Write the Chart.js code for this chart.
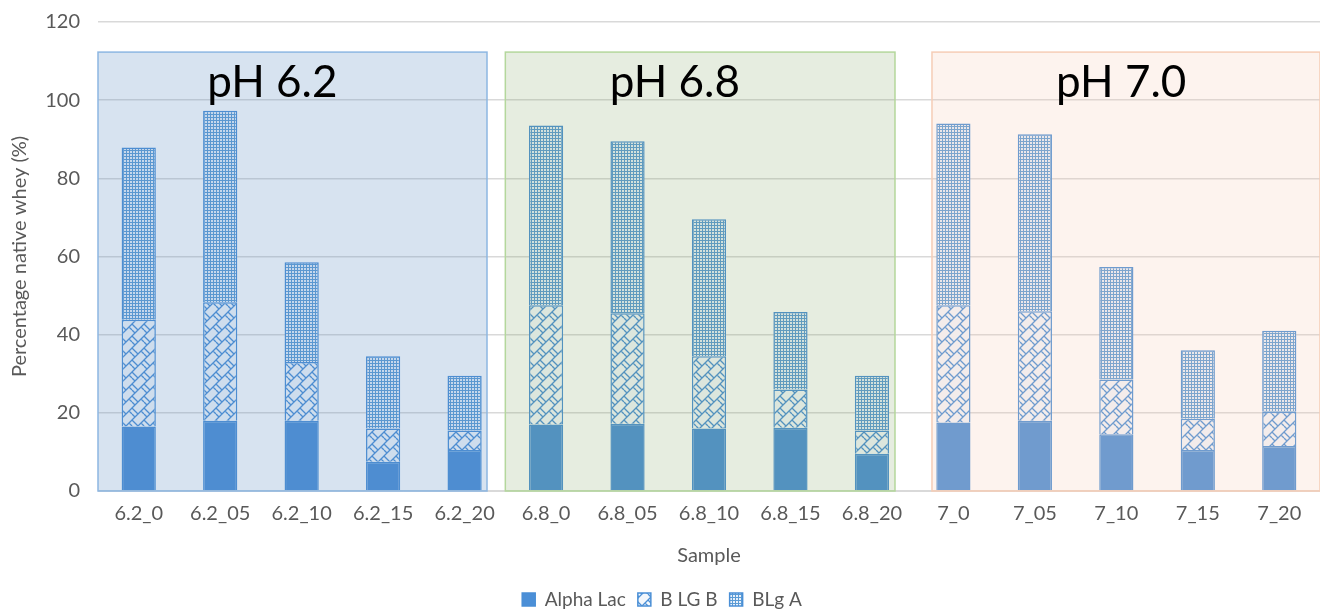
<!DOCTYPE html>
<html>
<head>
<meta charset="utf-8">
<script src="https://cdn.jsdelivr.net/npm/chart.js@4"></script>
<style>
  html, body { margin: 0; padding: 0; background: #fff; }
  #wrap { width: 1320px; height: 610px; }
</style>
</head>
<body>
<div id="wrap"><canvas id="myChart"></canvas></div>
<script>
// values
var samples = ['6.2_0', '6.2_05', '6.2_10', '6.2_15', '6.2_20',
               '6.8_0', '6.8_05', '6.8_10', '6.8_15', '6.8_20',
               '7_0', '7_05', '7_10', '7_15', '7_20'];
var alphaLac = [16.5, 18, 18, 7.5, 10.5, 17, 17.2, 16, 16.2, 9.5, 17.5, 18, 14.5, 10.5, 11.5];
var blgB = [27.3, 30.3, 15, 8.5, 5, 30.5, 28.3, 18.5, 9.8, 6, 30, 28, 14, 8, 8.8];
var blgA = [44.1, 49, 25.5, 18.5, 14, 46, 44, 35, 19.8, 14, 46.5, 45.3, 28.8, 17.5, 20.7];
var groupNames = ['pH 6.2', 'pH 6.8', 'pH 7.0'];

var ctx = document.getElementById('myChart').getContext('2d');
var blue = '#4a8fd6';

function dotsPattern() {
    var c = document.createElement('canvas');
    c.width = 3; c.height = 3;
    var g = c.getContext('2d');
    g.fillStyle = '#e8f0fa';
    g.fillRect(0, 0, 3, 3);
    g.fillStyle = '#5b9bd5';
    g.fillRect(0, 0, 3, 1);
    g.fillRect(0, 0, 1, 3);
    return ctx.createPattern(c, 'repeat');
}

function weavePattern() {
    var s = 12;
    var c = document.createElement('canvas');
    c.width = s; c.height = s;
    var g = c.getContext('2d');
    g.fillStyle = '#f3f7fc';
    g.fillRect(0, 0, s, s);
    g.strokeStyle = blue;
    g.lineWidth = 1.3;
    g.beginPath();
    // up-right diagonals
    g.moveTo(-1, s + 1); g.lineTo(s + 1, -1);
    g.moveTo(-1, 1); g.lineTo(1, -1);
    g.moveTo(s - 1, s + 1); g.lineTo(s + 1, s - 1);
    // short down-right links, staggered
    g.moveTo(0, 0); g.lineTo(6, 6);
    g.moveTo(9, 3); g.lineTo(12, 6);
    g.moveTo(0, 6); g.lineTo(3, 9);
    g.stroke();
    return ctx.createPattern(c, 'repeat');
}

var groupBoxes = {
    id: 'groupBoxes',
    afterDatasetsDraw: function (chart, args, opts) {
        var x = chart.scales.x, y = chart.scales.y, c = chart.ctx;
        opts.boxes.forEach(function (b, i) {
            var l = x.getPixelForValue(b.from), r = x.getPixelForValue(b.to);
            var t = y.getPixelForValue(b.top), bt = y.getPixelForValue(0);
            c.save();
            c.fillStyle = b.fill;
            c.fillRect(l, t, r - l, bt - t);
            c.strokeStyle = b.line;
            c.lineWidth = 1.5;
            c.strokeRect(l, t, r - l, bt - t);
            c.fillStyle = '#000';
            c.font = '44px Lato, "Open Sans", sans-serif';
            c.textAlign = 'center';
            c.textBaseline = 'middle';
            c.fillText(groupNames[i], x.getPixelForValue(b.textAt), y.getPixelForValue(104.5));
            c.restore();
        });
    }
};

var tickFont = { family: 'Lato', size: 20 };

var myChart = new Chart(ctx, {
    type: 'bar',
    data: {
        labels: samples,
        datasets: [{
            label: 'Alpha Lac',
            data: alphaLac,
            backgroundColor: '#4b8fd7',
            borderColor: blue,
            borderWidth: 1.5
        }, {
            label: 'B LG B',
            data: blgB,
            backgroundColor: weavePattern(),
            borderColor: blue,
            borderWidth: 1.5
        }, {
            label: 'BLg A',
            data: blgA,
            backgroundColor: dotsPattern(),
            borderColor: blue,
            borderWidth: 1.5
        }]
    },
    plugins: [groupBoxes],
    options: {
        responsive: true,
        maintainAspectRatio: false,
        animation: false,
        datasets: {
            bar: { categoryPercentage: 1, barPercentage: 0.42 }
        },
        layout: { padding: { top: 22, right: 0, left: 4, bottom: -9 } },
        plugins: {
            tooltip: { enabled: false },
            legend: {
                position: 'bottom',
                labels: {
                    boxWidth: 13,
                    boxHeight: 13,
                    padding: 12,
                    color: '#595959',
                    font: { family: 'Lato', size: 19 }
                }
            },
            groupBoxes: {
                boxes: [
                    { from: -0.5, to: 4.275, top: 112.3, textAt: 1.64, fill: 'rgba(87,140,193,0.24)', line: '#8db7e2' },
                    { from: 4.5, to: 9.283, top: 112.3, textAt: 6.58, fill: 'rgba(120,160,90,0.19)', line: '#b4d79c' },
                    { from: 9.737, to: 14.5, top: 112.3, textAt: 12.06, fill: 'rgba(246,200,176,0.22)', line: '#f6cdb6' }
                ]
            }
        },
        scales: {
            x: {
                stacked: true,
                grid: { display: false },
                border: { color: '#d9d9d9' },
                ticks: { color: '#595959', font: tickFont, maxRotation: 0, padding: 3 },
                title: { display: true, text: 'Sample', color: '#595959', font: tickFont, padding: { top: 15, bottom: 10 } }
            },
            y: {
                stacked: true,
                min: 0,
                max: 120,
                ticks: { stepSize: 20, color: '#595959', font: tickFont, padding: 18 },
                grid: { color: '#d9d9d9', lineWidth: 1.5, drawTicks: false },
                border: { display: false },
                title: { display: true, text: 'Percentage native whey (%)', color: '#595959', font: tickFont },
                afterFit: function (scale) {
                    scale.width = 94;
                    scale.paddingTop = 0;
                    scale.paddingBottom = 0;
                }
            }
        }
    }
});
</script>
</body>
</html>
